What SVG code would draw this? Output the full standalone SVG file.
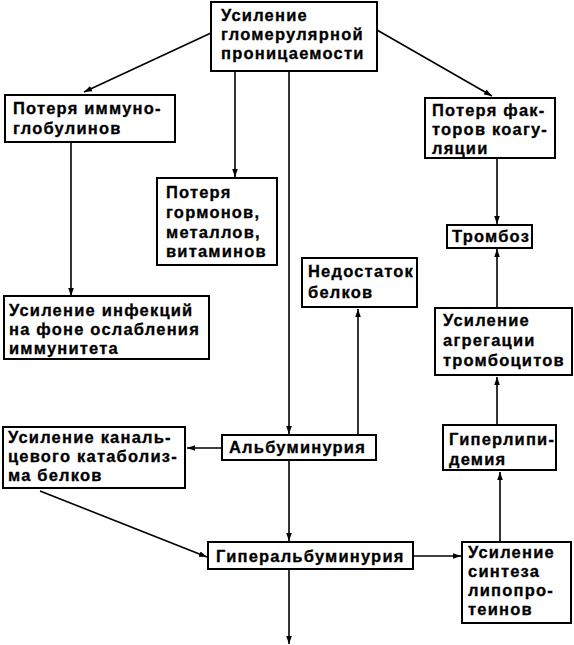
<svg xmlns="http://www.w3.org/2000/svg" width="574" height="645" viewBox="0 0 574 645">
<style>
.b{fill:#fff;stroke:#000;stroke-width:2}
.t{font-family:"Liberation Sans",Arial,sans-serif;font-weight:bold;font-size:16.5px;letter-spacing:1.2px;fill:#000;stroke:#000;stroke-width:0.3}
.c{fill:none;stroke:#000;stroke-width:1.6;marker-end:url(#a)}
</style>
<defs>
<marker id="a" viewBox="0 0 10 10" refX="10" refY="5" markerWidth="8" markerHeight="8" markerUnits="userSpaceOnUse" orient="auto">
<path d="M0,1.5 L10,5 L0,8.5 Z" fill="#000"/>
</marker>
</defs>
<rect width="574" height="645" fill="#fff"/>
<g id="connectors">
<line class="c" x1="211" y1="33" x2="84" y2="92"/>
<line class="c" x1="235" y1="71" x2="235" y2="177"/>
<line class="c" x1="289" y1="71" x2="289" y2="434"/>
<line class="c" x1="377" y1="30" x2="492" y2="96"/>
<line class="c" x1="71" y1="142" x2="71" y2="296"/>
<line class="c" x1="497" y1="159" x2="497" y2="224"/>
<line class="c" x1="497" y1="307" x2="497" y2="249"/>
<line class="c" x1="358" y1="434" x2="358" y2="309"/>
<line class="c" x1="222" y1="448" x2="187" y2="448"/>
<line class="c" x1="289" y1="461" x2="289" y2="541"/>
<line class="c" x1="40" y1="491" x2="207" y2="557"/>
<line class="c" x1="414" y1="556" x2="461" y2="556"/>
<line class="c" x1="289" y1="570" x2="289" y2="644"/>
<line class="c" x1="500" y1="541" x2="500" y2="472"/>
<line class="c" x1="497" y1="424" x2="497" y2="377"/>
</g>
<g id="n1"><rect class="b" x="211" y="2" width="166" height="69"/>
<text class="t"><tspan x="221" y="21">Усиление</tspan><tspan x="221" y="40">гломерулярной</tspan><tspan x="221" y="59">проницаемости</tspan></text></g>
<g id="n2"><rect class="b" x="5" y="95" width="170" height="47"/>
<text class="t"><tspan x="13" y="114">Потеря иммуно-</tspan><tspan x="13" y="134">глобулинов</tspan></text></g>
<g id="n3"><rect class="b" x="157" y="178" width="120" height="87"/>
<text class="t"><tspan x="166" y="198">Потеря</tspan><tspan x="166" y="218">гормонов,</tspan><tspan x="166" y="238">металлов,</tspan><tspan x="166" y="257">витаминов</tspan></text></g>
<g id="n4"><rect class="b" x="425" y="98" width="130" height="60"/>
<text class="t"><tspan x="432" y="116">Потеря фак-</tspan><tspan x="432" y="135">торов коагу-</tspan><tspan x="432" y="154">ляции</tspan></text></g>
<g id="n5"><rect class="b" x="447" y="225" width="85" height="23"/>
<text class="t"><tspan x="452" y="242">Тромбоз</tspan></text></g>
<g id="n6"><rect class="b" x="302" y="258" width="115" height="49"/>
<text class="t"><tspan x="308" y="277">Недостаток</tspan><tspan x="308" y="298">белков</tspan></text></g>
<g id="n7"><rect class="b" x="4" y="296" width="205" height="63"/>
<text class="t"><tspan x="9" y="316">Усиление инфекций</tspan><tspan x="9" y="335">на фоне ослабления</tspan><tspan x="9" y="354">иммунитета</tspan></text></g>
<g id="n8"><rect class="b" x="435" y="308" width="137" height="67"/>
<text class="t"><tspan x="443" y="326">Усиление</tspan><tspan x="443" y="346">агрегации</tspan><tspan x="443" y="366">тромбоцитов</tspan></text></g>
<g id="n9"><rect class="b" x="3" y="427" width="182" height="61"/>
<text class="t"><tspan x="8" y="443">Усиление каналь-</tspan><tspan x="8" y="462">цевого катаболиз-</tspan><tspan x="8" y="481">ма белков</tspan></text></g>
<g id="n10"><rect class="b" x="222" y="435" width="154" height="25"/>
<text class="t"><tspan x="229" y="453">Альбуминурия</tspan></text></g>
<g id="n11"><rect class="b" x="443" y="425" width="113" height="45"/>
<text class="t"><tspan x="449" y="445">Гиперлипи-</tspan><tspan x="449" y="465">демия</tspan></text></g>
<g id="n12"><rect class="b" x="208" y="542" width="205" height="27"/>
<text class="t"><tspan x="216" y="562">Гиперальбуминурия</tspan></text></g>
<g id="n13"><rect class="b" x="462" y="542" width="109" height="81"/>
<text class="t"><tspan x="468" y="558">Усиление</tspan><tspan x="468" y="577">синтеза</tspan><tspan x="468" y="596">липопро-</tspan><tspan x="468" y="615">теинов</tspan></text></g>
</svg>
